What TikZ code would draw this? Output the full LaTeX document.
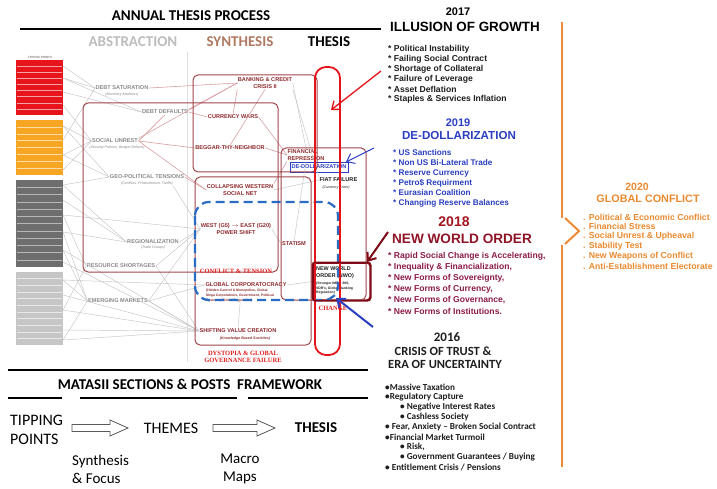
\documentclass[tikz,border=0pt]{standalone}
\usepackage{fontspec}
\setmainfont{Liberation Sans}
\newfontfamily\calfont{Carlito}
\newfontfamily\serfont{Liberation Serif}
\usetikzlibrary{arrows.meta}
\newcommand\myfs[1]{\fontsize{#1}{#1}\selectfont}
\newcommand\myfsb[2]{\fontsize{#1}{#2}\selectfont}
\definecolor{maroonbox}{HTML}{A0464A}
\definecolor{nwoc}{HTML}{7D0A16}
\definecolor{redov}{HTML}{E5141B}
\definecolor{bluedash}{HTML}{2A6BC4}
\definecolor{bluetxt}{HTML}{2B3FC0}
\definecolor{oran}{HTML}{EE8A33}
\definecolor{orantxt}{HTML}{EA8A30}
\definecolor{yr}{HTML}{A3151F}
\definecolor{nwotitle}{HTML}{8E1426}
\definecolor{nwolist}{HTML}{8C1C48}
\definecolor{synth}{HTML}{B07A62}
\definecolor{abst}{HTML}{BDBDBD}
\definecolor{themec}{HTML}{8E2A2E}
\definecolor{labgray}{HTML}{8A8A8A}
\definecolor{pinkl}{HTML}{D9A0A4}
\definecolor{colred}{HTML}{E8141B}
\definecolor{colorange}{HTML}{F6A623}
\definecolor{coldark}{HTML}{6E6E6E}
\definecolor{collight}{HTML}{C6C6C6}
\definecolor{redt}{HTML}{E0201E}
\definecolor{blk}{HTML}{1E1E1E}
\begin{document}
\begin{tikzpicture}[x=1pt,y=-1pt,
  lab/.style={font=\bfseries\myfs{5.6}, text=labgray, inner sep=0.5pt},
  sublab/.style={font=\itshape\myfs{3.6}, text=labgray, inner sep=0.3pt},
  theme/.style={font=\bfseries\myfsb{5.6}{7.5}, text=themec, inner sep=0.5pt, align=center},
  glink/.style={draw=gray!45, line width=0.45pt},
  plink/.style={draw=pinkl, line width=0.6pt},
  mbox/.style={draw=maroonbox, line width=1pt, rounded corners=5pt},
  redser/.style={font=\serfont\bfseries\myfsb{6.5}{7.5}, text=redt, inner sep=0.5pt, align=center},
  head/.style={font=\calfont\bfseries\myfs{15}, inner sep=0pt},
  item/.style={anchor=west, inner sep=0pt, font=\bfseries\myfs{8.6}},
  citem/.style={anchor=west, inner sep=0pt, font=\calfont\bfseries\myfs{9.2}, text=blk},
  barb/.style={-{Straight Barb[length=7pt,width=11pt]}},
  rule/.style={line width=1.3pt, draw=black},
  blockarrow/.style={draw=gray!70!black, line width=0.8pt, fill=white}
]
\useasboundingbox[fill=white] (0,0) rectangle (717,489);

% ---------- top header ----------
\node[head] (title) at (191,16) {ANNUAL THESIS PROCESS};
\draw[rule] (20,29) -- (381,29);
\node[head, text=abst] (abs) at (133,42) {ABSTRACTION};
\node[head, text=synth] (syn) at (240,42) {SYNTHESIS};
\node[head] (thes) at (329,42) {THESIS};

% ---------- left column of tipping points ----------
\node[font=\bfseries\myfs{3}, text=gray, inner sep=0] (tph) at (40,57) {TIPPING POINTS};
\fill[colred] (16,60) rectangle (63,115);
\foreach \k in {1,...,8} \draw[white!60!colred, line width=0.4pt] (17,{60+\k*55/9}) -- (62,{60+\k*55/9});
\fill[colorange] (16,120) rectangle (63,175);
\foreach \k in {1,...,7} \draw[white!60!colorange, line width=0.4pt] (17,{120+\k*55/8}) -- (62,{120+\k*55/8});
\fill[coldark] (16,180) rectangle (63,267);
\foreach \k in {1,...,11} \draw[white!50!coldark, line width=0.4pt] (17,{180+\k*87/12}) -- (62,{180+\k*87/12});
\fill[collight] (16,272) rectangle (63,345);
\foreach \k in {1,...,10} \draw[white!60!collight, line width=0.4pt] (17,{272+\k*73/11}) -- (62,{272+\k*73/11});

\foreach \n/\yy in {1/66,2/78,3/92,4/105,5/126,6/140,7/155,8/170,9/185,10/200,11/215,12/232,13/250,14/262,15/280,16/295,17/310,18/330,19/340}
  \coordinate (c\n) at (63,\yy);

% faint vertical guide
\draw[draw=gray!25, line width=0.5pt] (187,52) -- (187,362);

% ---------- abstraction labels ----------
\node[lab] (ds) at (122,88) {DEBT SATURATION};
\node[sublab] (dss) at (122,94.5) {(Monetary Madness)};
\node[lab] (dd) at (165,112) {DEBT DEFAULTS};
\node[lab] (su) at (115,141) {SOCIAL UNREST};
\node[sublab] (sus) at (117,148) {(Security Policies, Budget Deficits)};
\node[lab] (gp) at (147,177) {GEO-POLITICAL TENSIONS};
\node[sublab] (gps) at (147,184) {(Conflicts, Protectionism, Tariffs)};
\node[lab] (rg) at (153,242) {REGIONALIZATION};
\node[sublab] (rgs) at (153,248) {(Trade Groups)};
\node[lab] (rs) at (121,266) {RESOURCE SHORTAGES};
\node[lab] (em) at (118,301) {EMERGING MARKETS};

% ---------- synthesis themes ----------
\node[theme] (bc) at (265,83) {BANKING \& CREDIT\\CRISIS II};
\node[theme] (cw) at (233,117) {CURRENCY WARS};
\node[theme] (bn) at (230,148) {BEGGAR-THY-NEIGHBOR};
\node[theme, align=left, anchor=west] (fr) at (287,155) {FINANCIAL\\REPRESSION};
\node[draw=bluetxt, text=bluetxt, line width=0.6pt, font=\bfseries\myfs{5.6}, inner sep=1.2pt, minimum width=58pt, minimum height=10pt] (dedol) at (319,167) {DE-DOLLARIZATION};
\node[font=\bfseries\myfs{5.6}, text=blk, anchor=west, inner sep=0.5pt] (ff) at (319,180) {FIAT FAILURE};
\node[sublab, text=blk, anchor=west] (ffs) at (322,187.5) {(Currency Crisis)};
\node[theme] (cws) at (240,190) {COLLAPSING WESTERN\\SOCIAL NET};
\node[theme] (ws) at (236,229) {WEST (G5) $\rightarrow$ EAST (G20)\\POWER SHIFT};
\node[theme] (st) at (294,244) {STATISM};
\node[theme] (gc) at (246,285) {GLOBAL CORPORATOCRACY};
\node[font=\bfseries\myfsb{3.4}{5}, text=themec, align=left, anchor=north west, inner sep=0] (gcs) at (206,289) {(Hidden Control \& Monopolies, Global\\Mega Corporations, Government, Political\\Systems, Global Regulation)};
\node[theme] (sv) at (238,331) {SHIFTING VALUE CREATION};
\node[font=\bfseries\itshape\myfs{3.6}, text=themec, inner sep=0.3pt] (svs) at (245,339) {(Knowledge Based Societies)};
\node[draw=nwoc, line width=1.5pt, rounded corners=3pt, minimum width=57pt, minimum height=37pt, inner sep=0] (nwo) at (341.5,281.5) {};

% ---------- gray web from tipping points ----------
\foreach \a/\b in {c1/ds.west,c2/ds.west,c3/dd.west,c4/su.west,c5/su.west,c6/ds.west,
  c7/gp.west,c8/su.west,c9/gp.west,c10/rg.west,c11/rs.west,c12/rg.west,c13/em.west,
  c14/sv.west,c15/em.west,c16/sv.west,c17/rs.west,c18/sv.west,c19/em.west,
  c2/dd.west,c5/gp.west,c9/rg.west,c11/ws.west,c13/sv.west,c15/gc.west,c17/sv.west,c19/sv.west,c7/su.west,c12/em.west}
  \draw[glink] (\a) -- (\b);

\foreach \a/\b in {rg.east/ws.west,rs.east/ws.west,em.east/ws.west,em.east/gc.west,em.east/sv.west,
  gps.south east/ws.west,bc.east/fr.north,cws.east/ff.west,gc.east/nwo.west,sv.north/gcs.south,
  st.north/fr.south,bc.south east/ff.north west,ws.east/st.west,rs.east/sv.west}
  \draw[glink] (\a) -- (\b);

\foreach \a/\b in {ds.east/bc.west,dd.east/cw.west,dd.north east/bc.west,su.east/bn.west,
  su.east/dd.south,su.east/cws.west,gp.east/cws.west,cw.north/bc.south west,bn.north/bc.south,
  cw.east/fr.west,bn.east/fr.west,cws.north east/fr.south west,su.north east/bc.west}
  \draw[plink] (\a) -- (\b);

% ---------- frames ----------
\draw[mbox] (83,103) rectangle (278,272);
\draw[mbox] (193,75) rectangle (317,172);
\draw[mbox] (195,177) rectangle (311,345);
\draw[mbox] (281,148) rectangle (366,300);

% ---------- new world order box text ----------
\node[font=\bfseries\myfsb{5.4}{7}, text=blk, align=left, anchor=north west, inner sep=0] (nwot) at (316,267) {NEW WORLD\\ORDER (NWO)};
\node[font=\bfseries\myfsb{3.4}{4.6}, text=blk, align=left, anchor=north west, inner sep=0] (nwos) at (316,282) {(Stronger IMF \& BIS,\\SDR's, Global Banking\\Regulation)};

% ---------- red serif captions ----------
\node[redser] (ct) at (236,271) {CONFLICT \& TENSION};
\node[redser] (dys) at (243,357) {DYSTOPIA \& GLOBAL\\GOVERNANCE FAILURE};
\node[redser] (chg) at (333,308) {CHANGE};

% ---------- blue dashed region and red oval ----------
\draw[draw=bluedash, line width=2.2pt, dash pattern=on 9pt off 5pt, rounded corners=14pt] (195,202) rectangle (338,300);
\draw[draw=redov, line width=1.8pt, rounded corners=11pt] (315,67) rectangle (340,355);
\draw[draw=nwoc, line width=1.5pt, rounded corners=3pt] (nwo.north west) rectangle (nwo.south east);

% ---------- arrows ----------
\coordinate (ra1) at (381,71); \coordinate (ra2) at (331,110);
\draw[barb, draw=redov, line width=1.3pt] (ra1) -- (ra2);
\coordinate (ba1) at (374,148); \coordinate (ba2) at (346,162);
\draw[barb, draw=bluetxt, line width=1pt] (ba1) -- (ba2);
\coordinate (ma1) at (388,232); \coordinate (ma2) at (367,262);
\draw[barb, draw=nwoc, line width=2pt] (ma1) -- (ma2);
\coordinate (bb1) at (373,327); \coordinate (bb2) at (336,298);
\draw[barb, draw=bluetxt, line width=2pt] (bb1) -- (bb2);

% ---------- 2017 ----------
\node[font=\bfseries\myfs{11}, inner sep=0] (y17) at (458,12) {2017};
\node[font=\bfseries\myfs{13.4}, inner sep=0] (t17) at (465,27) {ILLUSION OF GROWTH};
\foreach \t [count=\i] in {{* Political Instability},{* Failing Social Contract},{* Shortage of Collateral},{* Failure of Leverage},{* Asset Deflation},{* Staples \& Services Inflation}}
  \node[item, text=blk] (a\i) at (388,{49+10*(\i-1)}) {\t};

% ---------- 2019 ----------
\node[font=\bfseries\myfs{11}, text=bluetxt, inner sep=0] (y19) at (458,123) {2019};
\node[font=\bfseries\myfs{11.6}, text=bluetxt, inner sep=0] (t19) at (459,136) {DE-DOLLARIZATION};
\foreach \t [count=\i] in {{* US Sanctions},{* Non US Bi-Lateral Trade},{* Reserve Currency},{* Petro\$ Requirment},{* Eurasian Coalition},{* Changing Reserve Balances}}
  \node[item, text=bluetxt, font=\bfseries\myfs{8.2}] (b\i) at (393,{153+10*(\i-1)}) {\t};

% ---------- 2018 ----------
\node[font=\bfseries\myfs{14}, text=yr, inner sep=0] (y18) at (454,222) {2018};
\node[font=\bfseries\myfs{13.6}, text=nwotitle, inner sep=0] (t18) at (462,239) {NEW WORLD ORDER};
\foreach \t [count=\i] in {{* Rapid Social Change is Accelerating,},{* Inequality \& Financialization,},{* New Forms of Sovereignty,},{* New Forms of Currency,},{* New Forms of Governance,},{* New Forms of Institutions.}}
  \node[item, text=nwolist] (d\i) at (388,{256+11*(\i-1)}) {\t};

% ---------- 2016 ----------
\node[font=\calfont\bfseries\myfs{13}, text=blk, inner sep=0] (y16) at (447,337) {2016};
\node[font=\calfont\bfseries\myfs{12.5}, text=blk, inner sep=0] (t16a) at (443,351) {CRISIS OF TRUST \&};
\node[font=\calfont\bfseries\myfs{12.5}, text=blk, inner sep=0] (t16b) at (445,364) {ERA OF UNCERTAINTY};
\foreach \xx/\t [count=\i] in {385/{•Massive Taxation},385/{•Regulatory Capture},400/{• Negative Interest Rates},400/{• Cashless Society},385/{• Fear, Anxiety – Broken Social Contract},385/{•Financial Market Turmoil},400/{• Risk,},400/{• Government Guarantees / Buying},385/{• Entitlement Crisis / Pensions}}
  \node[citem] (e\i) at (\xx,{387+10*(\i-1)}) {\t};

% ---------- 2020 bracket and text ----------
\draw[draw=oran, line width=2pt] (562,22) -- (562,218);
\draw[draw=oran, line width=2pt] (562,245) -- (562,467);
\draw[draw=oran, line width=2pt, line join=miter] (565,218) -- (579,231) -- (565,244);
\node[font=\bfseries\myfs{10.5}, text=orantxt, inner sep=0] (y20) at (637,187) {2020};
\node[font=\bfseries\myfs{10.8}, text=orantxt, inner sep=0] (t20) at (648,199) {GLOBAL CONFLICT};
\foreach \t [count=\i] in {{. Political \& Economic Conflict},{. Financial Stress},{. Social Unrest \& Upheaval},{. Stability Test},{. New Weapons of Conflict},{. Anti-Establishment Electorate}}
  \node[item, text=orantxt, font=\bfseries\myfs{8.7}] (f\i) at (583,{217+9.8*(\i-1)}) {\t};

% ---------- bottom framework ----------
\draw[rule] (8,370) -- (368,370);
\node[head] (mat) at (190,384) {MATASII SECTIONS \& POSTS\ \ FRAMEWORK};
\draw[rule] (8,398) -- (62,398);
\draw[rule] (80,398) -- (237,398);
\draw[rule] (248,398) -- (368,398);
\node[font=\calfont\myfsb{16}{19}, align=left, anchor=west, inner sep=0] (tp) at (10,429.5) {TIPPING\\POINTS};
\node[font=\calfont\myfs{16}, inner sep=0] (thm) at (171,428) {THEMES};
\node[font=\calfont\bfseries\myfs{15}, inner sep=0] (ths) at (316,428) {THESIS};
\draw[blockarrow] (72,424.5) -- (110,424.5) -- (110,420) -- (128,428) -- (110,436) -- (110,431.5) -- (72,431.5) -- cycle;
\draw[blockarrow] (213,424.5) -- (257,424.5) -- (257,420) -- (275,428) -- (257,436) -- (257,431.5) -- (213,431.5) -- cycle;
\node[font=\calfont\myfsb{15}{18}, align=left, anchor=west, inner sep=0] (sf) at (72,469) {Synthesis\\\& Focus};
\node[font=\calfont\myfsb{15}{18}, align=center, inner sep=0] (mm) at (240,469) {Macro\\Maps};
\end{tikzpicture}
\end{document}
